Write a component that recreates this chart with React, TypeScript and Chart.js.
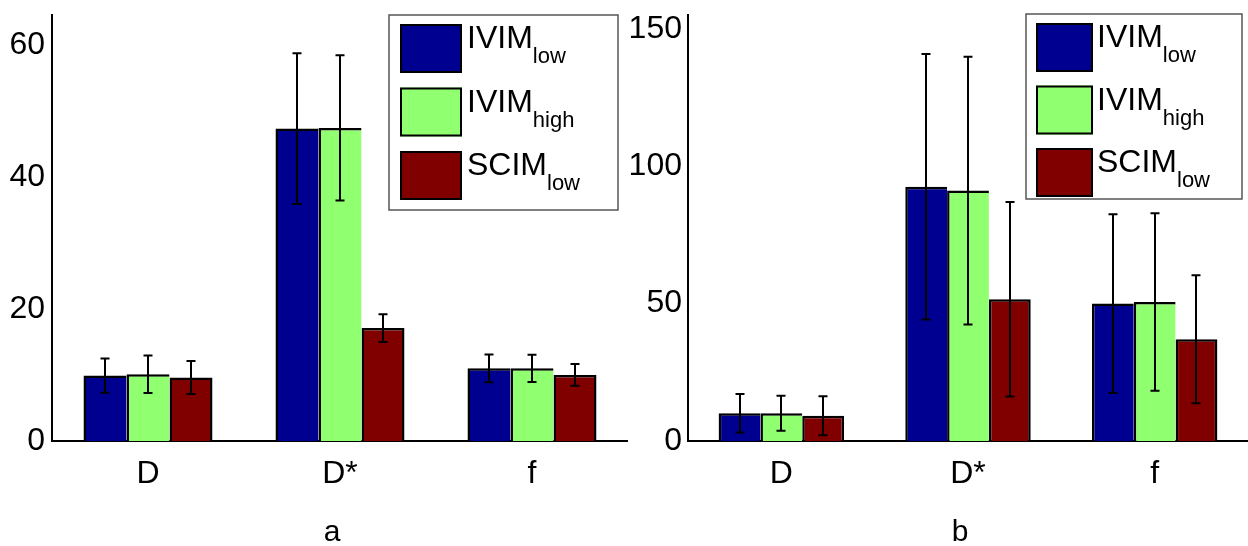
import React, { useEffect, useRef } from 'react';
import { Chart, registerables } from 'chart.js';

Chart.register(...registerables);

// ---------- data ----------
const categories = ['D', 'D*', 'f'];
const seriesNames = ['IVIM', 'IVIM', 'SCIM'];
const seriesSubs = ['low', 'high', 'low'];
const seriesColors = ['#000090', '#90FF70', '#800000'];

// panel a
const ivimLowA = [9.9, 47.3, 11.0];
const ivimHighA = [10.1, 47.4, 11.0];
const scimLowA = [9.6, 17.1, 10.0];
const ivimLowErrA = [2.6, 11.4, 2.1];
const ivimHighErrA = [2.85, 11.0, 2.05];
const scimLowErrA = [2.5, 2.1, 1.65];
const yTicksA = [0, 20, 40, 60];
const yMaxA = 64.5;

// panel b
const ivimLowB = [10.1, 92.5, 50.0];
const ivimHighB = [10.1, 91.1, 50.6];
const scimLowB = [9.2, 51.6, 37.0];
const ivimLowErrB = [7.0, 48.3, 32.5];
const ivimHighErrB = [6.4, 48.7, 32.3];
const scimLowErrB = [7.1, 35.4, 23.3];
const yTicksB = [0, 50, 100, 150];
const yMaxB = 155;

const FONT = '"Liberation Sans", Arial, Helvetica, sans-serif';

// ---------- plugins ----------
const errorBarsPlugin = {
  id: 'errorBars',
  afterDatasetsDraw(chart: any, _args: any, opts: any) {
    const { ctx } = chart;
    const yScale = chart.scales.y;
    const errs: number[][] = opts.errors || [];
    ctx.save();
    ctx.strokeStyle = '#000';
    ctx.lineWidth = 2;
    chart.data.datasets.forEach((ds: any, di: number) => {
      const meta = chart.getDatasetMeta(di);
      meta.data.forEach((bar: any, i: number) => {
        const v = ds.data[i];
        const e = errs[di] ? errs[di][i] : 0;
        const x = Math.round(bar.x);
        const yt = yScale.getPixelForValue(v + e);
        const yb = yScale.getPixelForValue(v - e);
        const c = opts.cap || 4.5;
        ctx.beginPath();
        ctx.moveTo(x, yt);
        ctx.lineTo(x, yb);
        ctx.moveTo(x - c, yt);
        ctx.lineTo(x + c, yt);
        ctx.moveTo(x - c, yb);
        ctx.lineTo(x + c, yb);
        ctx.stroke();
      });
    });
    ctx.restore();
  },
};

const subLegendPlugin = {
  id: 'subLegend',
  afterDraw(chart: any, _args: any, o: any) {
    const { ctx, chartArea } = chart;
    const right = chartArea.right - o.inset;
    const left = right - o.width;
    const top = o.top;
    ctx.save();
    ctx.fillStyle = '#fff';
    ctx.fillRect(left, top, o.width, o.height);
    ctx.strokeStyle = '#555';
    ctx.lineWidth = 1.5;
    ctx.strokeRect(left, top, o.width, o.height);
    chart.data.datasets.forEach((ds: any, i: number) => {
      const sx = left + o.swatchLeft;
      const sy = top + o.firstRow + i * o.rowPitch;
      ctx.fillStyle = ds.backgroundColor;
      ctx.fillRect(sx, sy, o.swatchW, o.swatchH);
      ctx.strokeStyle = '#000';
      ctx.lineWidth = 2;
      ctx.strokeRect(sx + 1, sy + 1, o.swatchW - 2, o.swatchH - 2);
      const tx = sx + o.swatchW + o.textGap;
      ctx.fillStyle = '#000';
      ctx.textAlign = 'left';
      ctx.textBaseline = 'alphabetic';
      ctx.font = `32px ${FONT}`;
      const main = seriesNames[i];
      ctx.fillText(main, tx, sy + 24);
      const w = ctx.measureText(main).width;
      ctx.font = `22px ${FONT}`;
      ctx.fillText(seriesSubs[i], tx + w, sy + 39);
    });
    ctx.restore();
  },
};

const panelLabelPlugin = {
  id: 'panelLabel',
  afterDraw(chart: any, _args: any, o: any) {
    const { ctx, chartArea } = chart;
    ctx.save();
    ctx.fillStyle = '#000';
    ctx.font = `30px ${FONT}`;
    ctx.textAlign = 'center';
    ctx.textBaseline = 'alphabetic';
    ctx.fillText(o.text, (chartArea.left + chartArea.right) / 2 + o.dx, o.baseline);
    ctx.restore();
  },
};

function makeConfig(
  values: number[][],
  errors: number[][],
  yTicks: number[],
  yMax: number,
  axisWidth: number,
  tickPad: number,
  legend: any,
  label: string,
) {
  const datasets = values.map((vals, i) => ({
    label: seriesNames[i] + seriesSubs[i],
    data: vals,
    backgroundColor: seriesColors[i],
    borderColor: '#000',
    borderWidth: i === values.length - 1 ? { left: 2.5, right: 2.5, top: 2.5, bottom: 0 } : { left: 2.5, right: 0, top: 2.5, bottom: 0 },
    borderSkipped: 'start',
    inflateAmount: 0,
    categoryPercentage: 0.672,
    barPercentage: 1.0,
  }));
  return {
    type: 'bar',
    data: { labels: categories, datasets },
    options: {
      responsive: false,
      maintainAspectRatio: false,
      animation: false,
      devicePixelRatio: 1,
      layout: { padding: { top: 15, left: 0, right: 0, bottom: 0 } },
      plugins: {
        legend: { display: false },
        tooltip: { enabled: false },
        errorBars: { errors, cap: 4.5 },
        subLegend: legend,
        panelLabel: { text: label, dx: -8, baseline: 541 },
      },
      scales: {
        x: {
          grid: { display: false, drawTicks: false },
          border: { display: true, color: '#000', width: 2 },
          ticks: { color: '#000', font: { family: FONT, size: 32 }, padding: 14 },
          afterFit: (s: any) => {
            s.height = 105;
            s.paddingLeft = 0;
            s.paddingRight = 0;
          },
        },
        y: {
          min: 0,
          max: yMax,
          grid: { display: false, drawTicks: false },
          border: { display: true, color: '#000', width: 2 },
          ticks: { color: '#000', font: { family: FONT, size: 32 }, padding: tickPad },
          afterBuildTicks: (s: any) => {
            s.ticks = yTicks.map((v) => ({ value: v }));
          },
          afterFit: (s: any) => {
            s.width = axisWidth;
            s.paddingTop = 0;
            s.paddingBottom = 0;
          },
        },
      },
    },
    plugins: [errorBarsPlugin, subLegendPlugin, panelLabelPlugin],
  } as any;
}

function Panel(props: { config: any; left: number; width: number }) {
  const ref = useRef<HTMLCanvasElement | null>(null);
  useEffect(() => {
    if (!ref.current) return;
    const chart = new Chart(ref.current, props.config);
    return () => chart.destroy();
  }, []);
  return (
    <canvas
      ref={ref}
      width={props.width}
      height={546}
      style={{ position: 'absolute', left: props.left, top: 0, width: props.width, height: 546 }}
    />
  );
}

export default function App() {
  const configA = makeConfig(
    [ivimLowA, ivimHighA, scimLowA],
    [ivimLowErrA, ivimHighErrA, scimLowErrA],
    yTicksA,
    yMaxA,
    52,
    7,
    { inset: 10, width: 229, height: 195, top: 15, swatchLeft: 11, swatchW: 62, swatchH: 49, firstRow: 9, rowPitch: 63.5, textGap: 5 },
    'a',
  );
  const configB = makeConfig(
    [ivimLowB, ivimHighB, scimLowB],
    [ivimLowErrB, ivimHighErrB, scimLowErrB],
    yTicksB,
    yMaxB,
    68,
    6,
    { inset: 6, width: 216, height: 185, top: 14, swatchLeft: 10, swatchW: 57, swatchH: 49, firstRow: 9, rowPitch: 62.5, textGap: 4 },
    'b',
  );
  return (
    <div style={{ position: 'fixed', left: 0, top: 0, width: 1248, height: 546, background: '#fff', overflow: 'hidden' }}>
      <Panel config={configA} left={0} width={628} />
      <Panel config={configB} left={620} width={628} />
    </div>
  );
}
